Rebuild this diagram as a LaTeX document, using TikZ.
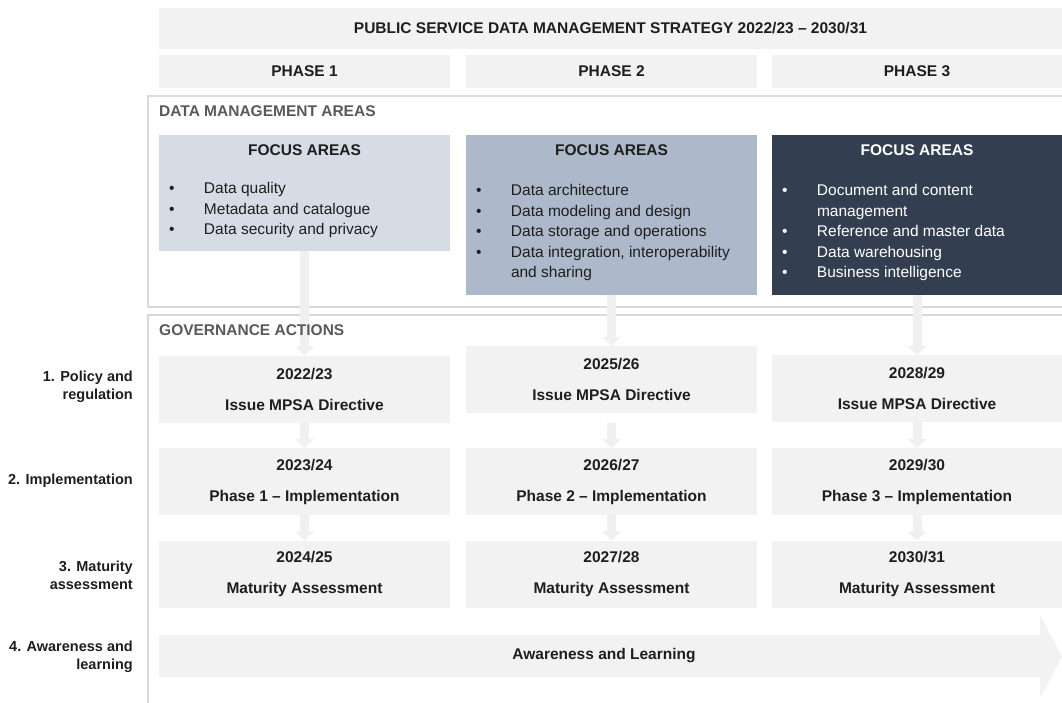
\documentclass[tikz,border=0pt]{standalone}
\usepackage{fontspec}
\setmainfont{Liberation Sans}
\usetikzlibrary{arrows.meta}

\definecolor{boxgray}{HTML}{F2F2F2}
\definecolor{linegray}{HTML}{F0F0F0}
\definecolor{framegray}{HTML}{D9D9D9}
\definecolor{headgray}{HTML}{595959}
\definecolor{textdark}{HTML}{1E1E1E}
\definecolor{focusA}{HTML}{D6DCE5}
\definecolor{focusB}{HTML}{ADB9CA}
\definecolor{focusC}{HTML}{333F50}

\tikzset{
  cell/.style={fill=boxgray, inner sep=0pt, text=textdark, align=center,
    font=\bfseries\fontsize{15.5}{31}\selectfont},
  govbox/.style={cell, minimum height=67pt},
  focusbox/.style={inner sep=0pt, anchor=north, minimum width=#1},
  focushead/.style={inner sep=0pt, font=\bfseries\fontsize{15.5}{20.5}\selectfont},
  focuslist/.style={inner sep=0pt, anchor=north west, font=\fontsize{15.5}{20.5}\selectfont},
  section/.style={inner sep=0pt, anchor=west, text=headgray, font=\bfseries\fontsize{15.5}{20}\selectfont},
  rowlabel/.style={inner sep=0pt, anchor=east, align=right, text=textdark, font=\bfseries\fontsize{14.5}{18}\selectfont},
  frame/.style={draw=framegray, line width=1.5pt},
  flow/.style={draw=linegray, line width=9pt, -{Triangle[width=19pt,length=9pt]}}
}

\begin{document}
\begin{tikzpicture}[x=1pt, y=-1pt]
\useasboundingbox (0,0) rectangle (1062,702);
\clip (0,0) rectangle (1062,702);

% strategy title and phases
\node[cell, minimum width=903pt, minimum height=41pt] (title) at (610.5,28.5) {PUBLIC SERVICE DATA MANAGEMENT STRATEGY 2022/23 -- 2030/31};
\foreach \i/\cx/\w in {1/304.5/291, 2/611.5/291, 3/917/290} {
    \node[cell, minimum width=\w pt, minimum height=33pt] (phase\i) at (\cx,71.5) {PHASE \i};
}

% frames of the two sections
\draw[frame] (148,96) rectangle (1080,307);
\draw[frame] (148,315) rectangle (1080,720);

% focus areas
\node[focusbox=291pt, fill=focusA, minimum height=116pt] (focus1) at (304.5,135) {};
\node[focusbox=291pt, fill=focusB, minimum height=160pt] (focus2) at (611.5,135) {};
\node[focusbox=290pt, fill=focusC, minimum height=160pt] (focus3) at (917,135) {};
\foreach \i in {1,2} {
    \node[focushead, text=textdark] (head\i) at ([yshift=-15pt]focus\i.north) {FOCUS AREAS};
}
\node[focushead, text=white] (head3) at ([yshift=-15pt]focus3.north) {FOCUS AREAS};
\node[focuslist, text=textdark] (list1) at ([xshift=10pt,yshift=-44pt]focus1.north west) {%
  \begin{tabular}{@{}p{35pt}@{}p{240pt}@{}}
  \textbullet & Data quality\\
  \textbullet & Metadata and catalogue\\
  \textbullet & Data security and privacy
  \end{tabular}};
\node[focuslist, text=textdark] (list2) at ([xshift=10pt,yshift=-46pt]focus2.north west) {%
  \begin{tabular}{@{}p{35pt}@{}p{240pt}@{}}
  \textbullet & Data architecture\\
  \textbullet & Data modeling and design\\
  \textbullet & Data storage and operations\\
  \textbullet & Data integration, interoperability\newline and sharing
  \end{tabular}};
\node[focuslist, text=white] (list3) at ([xshift=10pt,yshift=-46pt]focus3.north west) {%
  \begin{tabular}{@{}p{35pt}@{}p{240pt}@{}}
  \textbullet & Document and content\newline management\\
  \textbullet & Reference and master data\\
  \textbullet & Data warehousing\\
  \textbullet & Business intelligence
  \end{tabular}};

% governance actions
\foreach \c/\cx/\cy/\w in {1/304.5/389/291, 2/611.5/379.5/291, 3/917/388.5/290} {
    \pgfmathtruncatemacro\ya{2022+3*(\c-1)}
    \pgfmathtruncatemacro\yb{\ya+1-2000}
    \node[govbox, minimum width=\w pt] (gov1\c) at (\cx,\cy) {\ya/\yb\\Issue MPSA Directive};
    \pgfmathtruncatemacro\ya{2023+3*(\c-1)}
    \pgfmathtruncatemacro\yb{\ya+1-2000}
    \node[govbox, minimum width=\w pt] (gov2\c) at (\cx,481.5) {\ya/\yb\\Phase \c{} -- Implementation};
    \pgfmathtruncatemacro\ya{2024+3*(\c-1)}
    \pgfmathtruncatemacro\yb{\ya+1-2000}
    \node[govbox, minimum width=\w pt] (gov3\c) at (\cx,574) {\ya/\yb\\Maturity Assessment};
}

% awareness arrow
\fill[boxgray] (159,635) -- (1040,635) -- (1040,615) -- (1062,656.5) -- (1040,698) -- (1040,677) -- (159,677) -- cycle;
\node[cell, fill=none] (aware) at (604,656) {Awareness and Learning};

% row labels
\node[rowlabel] (lab1) at (133,387) {1. Policy and\\regulation};
\node[rowlabel] (lab2) at (133,481) {2. Implementation};
\node[rowlabel] (lab3) at (133,575) {3. Maturity\\assessment};
\node[rowlabel] (lab4) at (133,657) {4. Awareness and\\learning};

% connectors
\foreach \c/\s in {1/0, 2/10, 3/0} {
    \draw[flow] (focus\c) -- (gov1\c);
    \draw[flow, shorten <=\s pt] (gov1\c) -- (gov2\c);
    \draw[flow] (gov2\c) -- (gov3\c);
}

% section titles on top of the connectors
\node[section] (dmtitle) at (159,111) {DATA MANAGEMENT AREAS};
\node[section] (govtitle) at (159,330) {GOVERNANCE ACTIONS};
\end{tikzpicture}
\end{document}
